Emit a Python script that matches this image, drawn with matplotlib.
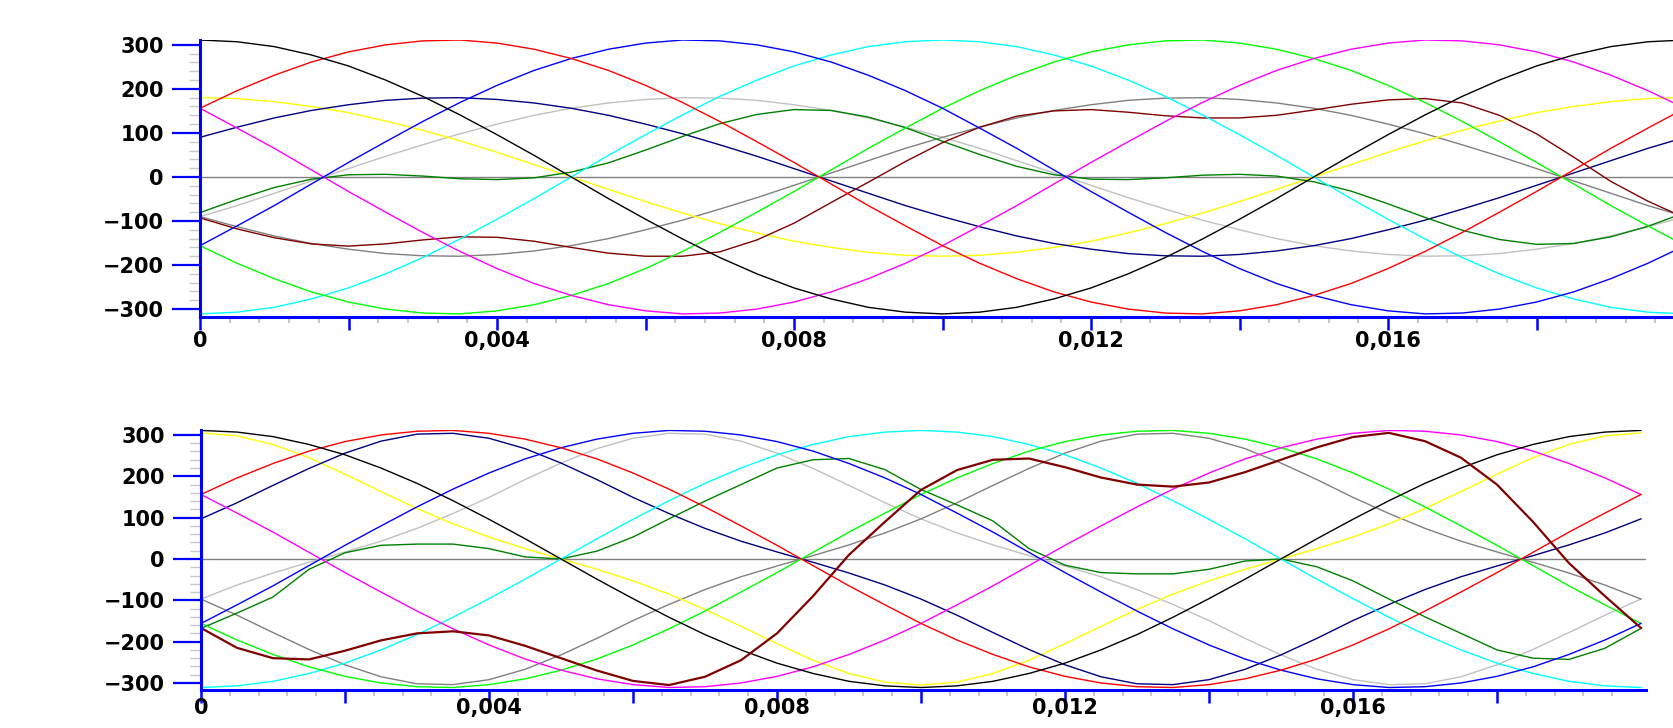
import numpy as np
import matplotlib
matplotlib.use("Agg")
import matplotlib.pyplot as plt
from matplotlib.ticker import FixedLocator, MultipleLocator, FuncFormatter

# --- dados (tensões em V, amostras a cada 0,5 ms) ---
t = np.linspace(0, 0.02, 41)

preto = [311, 307, 296, 277, 252, 220, 183, 141, 96, 49, 0, -49, -96, -141, -183, -220, -252, -277, -296, -307,
         -311, -307, -296, -277, -252, -220, -183, -141, -96, -49, 0, 49, 96, 141, 183, 220, 252, 277, 296, 307, 311]
vermelho = [156, 196, 231, 261, 284, 300, 309, 311, 304, 290, 269, 242, 208, 169, 126, 80, 33, -16, -65, -111,
            -156, -196, -231, -261, -284, -300, -309, -311, -304, -290, -269, -242, -208, -169, -126, -80, -33, 16, 65, 111, 156]
azul = [-156, -111, -65, -16, 33, 80, 126, 169, 208, 242, 269, 290, 304, 311, 309, 300, 284, 261, 231, 196,
        156, 111, 65, 16, -33, -80, -126, -169, -208, -242, -269, -290, -304, -311, -309, -300, -284, -261, -231, -196, -156]
ciano = [-311, -307, -296, -277, -252, -220, -183, -141, -96, -49, 0, 49, 96, 141, 183, 220, 252, 277, 296, 307,
         311, 307, 296, 277, 252, 220, 183, 141, 96, 49, 0, -49, -96, -141, -183, -220, -252, -277, -296, -307, -311]
verde = [-156, -196, -231, -261, -284, -300, -309, -311, -304, -290, -269, -242, -208, -169, -126, -80, -33, 16, 65, 111,
         156, 196, 231, 261, 284, 300, 309, 311, 304, 290, 269, 242, 208, 169, 126, 80, 33, -16, -65, -111, -156]
magenta = [156, 111, 65, 16, -33, -80, -126, -169, -208, -242, -269, -290, -304, -311, -309, -300, -284, -261, -231, -196,
           -156, -111, -65, -16, 33, 80, 126, 169, 208, 242, 269, 290, 304, 311, 309, 300, 284, 261, 231, 196, 156]

# gráfico de cima
amarelo_1 = [180, 178, 171, 160, 146, 127, 106, 82, 56, 28, 0, -28, -56, -82, -106, -127, -146, -160, -171, -178,
             -180, -178, -171, -160, -146, -127, -106, -82, -56, -28, 0, 28, 56, 82, 106, 127, 146, 160, 171, 178, 180]
marinho_1 = [90, 113, 134, 151, 164, 174, 179, 180, 176, 168, 156, 140, 120, 98, 73, 47, 19, -9, -37, -65,
             -90, -113, -134, -151, -164, -174, -179, -180, -176, -168, -156, -140, -120, -98, -73, -47, -19, 9, 37, 65, 90]
prata_1 = [-90, -65, -37, -9, 19, 47, 73, 98, 120, 140, 156, 168, 176, 180, 179, 174, 164, 151, 134, 113,
           90, 65, 37, 9, -19, -47, -73, -98, -120, -140, -156, -168, -176, -180, -179, -174, -164, -151, -134, -113, -90]
cinza_1 = [-90, -113, -134, -151, -164, -174, -179, -180, -176, -168, -156, -140, -120, -98, -73, -47, -19, 9, 37, 65,
           90, 113, 134, 151, 164, 174, 179, 180, 176, 168, 156, 140, 120, 98, 73, 47, 19, -9, -37, -65, -90]
verde_esc_1 = [-81, -51, -24, -5, 5, 6, 2, -4, -6, -2, 11, 32, 61, 92, 121, 142, 153, 151, 136, 112,
               81, 51, 24, 5, -5, -6, -2, 4, 6, 2, -11, -32, -61, -92, -121, -142, -153, -151, -136, -112, -81]
marrom_1 = [-93, -118, -138, -152, -157, -152, -143, -136, -137, -146, -160, -173, -180, -180, -170, -143, -105, -58, -12, 35,
            78, 113, 138, 150, 153, 147, 139, 134, 134, 140, 152, 165, 175, 178, 168, 140, 98, 45, -10, -55, -93]

# gráfico de baixo
amarelo_2 = [305, 298, 277, 245, 205, 163, 122, 85, 53, 25, 0, -25, -53, -85, -122, -163, -205, -245, -277, -298,
             -305, -298, -277, -245, -205, -163, -122, -85, -53, -25, 0, 25, 53, 85, 122, 163, 205, 245, 277, 298, 305]
marinho_2 = [97, 136, 178, 219, 256, 285, 302, 304, 292, 267, 232, 192, 149, 110, 74, 43, 17, -8, -34, -63,
             -97, -136, -178, -219, -256, -285, -302, -304, -292, -267, -232, -192, -149, -110, -74, -43, -17, 8, 34, 63, 97]
prata_2 = [-97, -63, -34, -8, 17, 43, 74, 110, 149, 192, 232, 267, 292, 304, 302, 285, 256, 219, 178, 136,
           97, 63, 34, 8, -17, -43, -74, -110, -149, -192, -232, -267, -292, -304, -302, -285, -256, -219, -178, -136, -97]
cinza_2 = [-97, -136, -178, -219, -256, -285, -302, -304, -292, -267, -232, -192, -149, -110, -74, -43, -17, 8, 34, 63,
           97, 136, 178, 219, 256, 285, 302, 304, 292, 267, 232, 192, 149, 110, 74, 43, 17, -8, -34, -63, -97]
verde_esc_2 = [-168, -131, -92, -25, 15, 33, 36, 36, 25, 5, 0, 19, 53, 97, 140, 180, 220, 240, 243, 216,
               168, 131, 92, 25, -15, -33, -36, -36, -25, -5, 0, -19, -53, -97, -140, -180, -220, -240, -243, -216, -168]
marrom_2 = [-167, -215, -240, -243, -222, -197, -180, -175, -185, -210, -240, -270, -295, -305, -285, -245, -180, -90, 10, 90,
            167, 215, 240, 243, 222, 197, 180, 175, 185, 210, 240, 270, 295, 305, 285, 245, 180, 90, -10, -90, -167]

cores = {'preto': 'black', 'vermelho': '#ff0000', 'azul': '#0000ff', 'ciano': '#00ffff', 'verde': '#00ff00',
         'magenta': '#ff00ff', 'amarelo': '#ffff00', 'marinho': '#000080', 'prata': '#c0c0c0',
         'cinza': '#808080', 'verde_esc': '#008000', 'marrom': '#800000'}

# ticks do eixo x: principais a cada 2 ms (rótulo a cada 4 ms), secundários a cada 0,4 ms
ticks_maiores = [0, 0.002, 0.004, 0.006, 0.008, 0.010, 0.012, 0.014, 0.016, 0.018]
ticks_menores = [i * 0.0004 for i in range(50) if i % 5]


def formata_x(v, pos):
    n = int(round(v / 0.002))
    if n % 2:
        return ''
    if n == 0:
        return '0'
    return f'{v:.3f}'.replace('.', ',')


def formata_y(v, pos):
    return f'{int(round(v))}'.replace('-', '\u2212')


def prepara_eixo(ax, xmax, ylim, pad_x):
    ax.axhline(0, color='#808080', lw=1.0, zorder=1)
    ax.set_xlim(0, xmax)
    ax.set_ylim(*ylim)
    for lado in ['top', 'right']:
        ax.spines[lado].set_visible(False)
    for lado in ['left', 'bottom']:
        ax.spines[lado].set_color('#0000ff')
        ax.spines[lado].set_linewidth(2.2)
    ax.xaxis.set_major_locator(FixedLocator(ticks_maiores))
    ax.xaxis.set_minor_locator(FixedLocator([m for m in ticks_menores if m < xmax]))
    ax.yaxis.set_major_locator(MultipleLocator(100))
    ax.yaxis.set_minor_locator(MultipleLocator(20))
    ax.xaxis.set_major_formatter(FuncFormatter(formata_x))
    ax.yaxis.set_major_formatter(FuncFormatter(formata_y))
    ax.tick_params(axis='x', which='major', length=9, width=1.8, color='#0000ff', pad=pad_x)
    ax.tick_params(axis='x', which='minor', length=4, width=1.5, color='#c8c8c8')
    ax.tick_params(axis='y', which='major', length=20, width=1.6, color='#0000ff', pad=6)
    ax.tick_params(axis='y', which='minor', length=8, width=1.0, color='#c8c8c8')
    for lbl in ax.get_xticklabels() + ax.get_yticklabels():
        lbl.set_fontweight('bold')
        lbl.set_fontsize(15)
    ax.set_facecolor('white')


fig = plt.figure(figsize=(16.73, 7.28), dpi=100)
ax1 = fig.add_axes([200 / 1673, 1 - 317 / 728, 1473 / 1673, 277 / 728])
ax2 = fig.add_axes([201 / 1673, 1 - 690 / 728, 1445 / 1673, 260 / 728])

series_1 = [('prata', prata_1), ('cinza', cinza_1), ('amarelo', amarelo_1), ('marinho', marinho_1),
            ('verde_esc', verde_esc_1), ('marrom', marrom_1), ('ciano', ciano), ('verde', verde),
            ('magenta', magenta), ('azul', azul), ('vermelho', vermelho), ('preto', preto)]
series_2 = [('prata', prata_2), ('cinza', cinza_2), ('amarelo', amarelo_2), ('marinho', marinho_2),
            ('verde_esc', verde_esc_2), ('ciano', ciano), ('verde', verde),
            ('magenta', magenta), ('azul', azul), ('vermelho', vermelho), ('preto', preto), ('marrom', marrom_2)]

for nome, valores in series_1:
    ax1.plot(t, valores, color=cores[nome], lw=1.0, zorder=2)
for nome, valores in series_2:
    ax2.plot(t, valores, color=cores[nome], lw=1.6 if nome == 'marrom' else 1.0, zorder=2)

prepara_eixo(ax1, 0.019838, (-318, 311), 1)
prepara_eixo(ax2, 0.02007, (-317, 312), -3)

fig.savefig('out.png', dpi=100)
